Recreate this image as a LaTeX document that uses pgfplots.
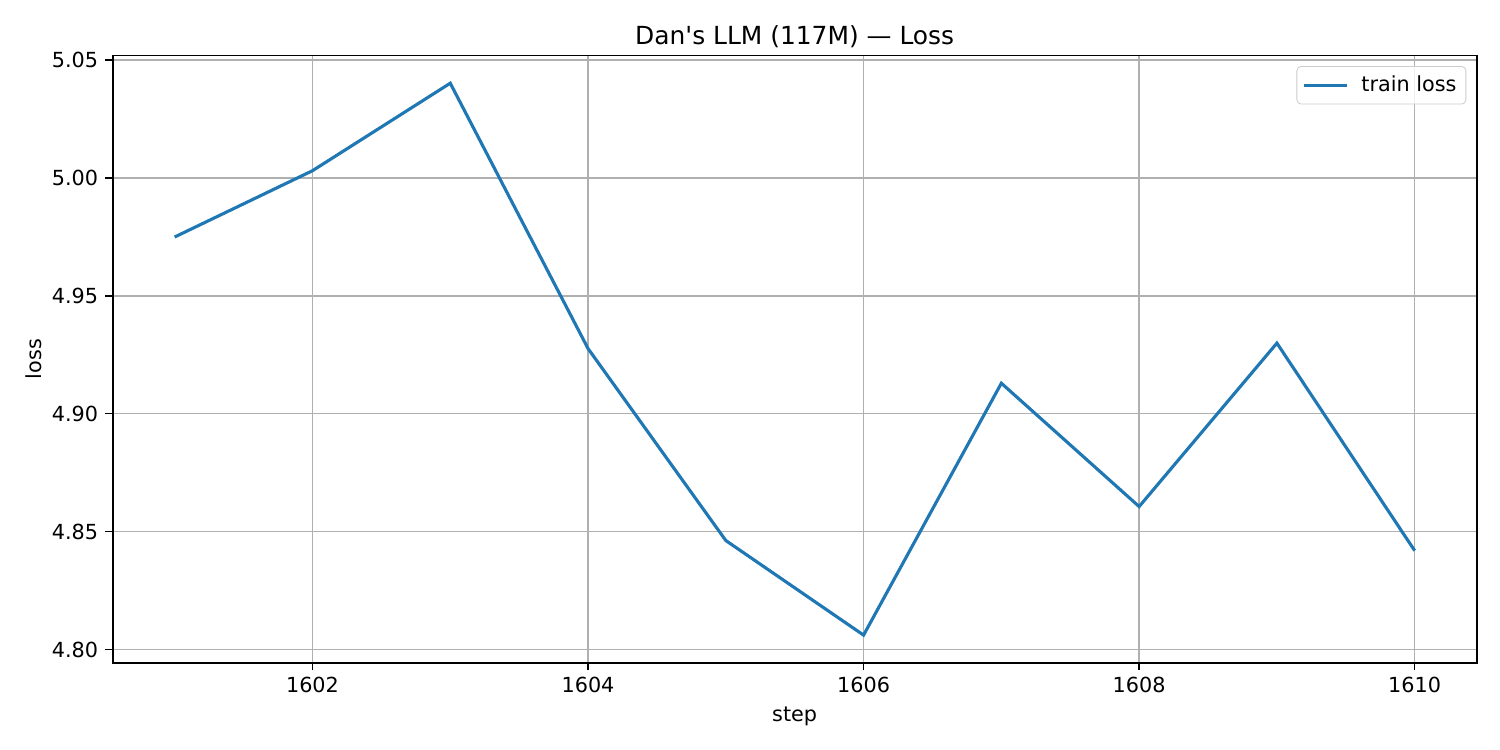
\documentclass[border=0pt]{standalone}
\usepackage{fontspec}
\setmainfont{DejaVu Sans}[Ligatures=TeXOff]
\usepackage{pgfplots}
\pgfplotsset{compat=1.18}

\definecolor{mplblue}{HTML}{1F77B4}
\definecolor{gridgray}{HTML}{B0B0B0}
\definecolor{legedge}{HTML}{CCCCCC}

\begin{document}
\begin{tikzpicture}
\path[use as bounding box] (0,0) rectangle (720bp,360bp);
\begin{axis}[
    at={(54.1bp,41.9bp)}, anchor=south west,
    scale only axis,
    width=654.7bp, height=291.4bp,
    xmin=1600.55, xmax=1610.45,
    ymin=4.7944, ymax=5.0518,
    xtick={1602,1604,...,1610},
    ytick={4.80,4.85,...,5.05},
    /pgf/number format/assume math mode=true,
    /pgf/number format/set thousands separator={},
    yticklabel style={/pgf/number format/.cd, fixed, fixed zerofill, precision=2},
    tick label style={font=\fontsize{10}{12}\selectfont},
    tick align=outside, tick pos=left,
    major tick length=3.5bp,
    every tick/.style={black, line width=0.8bp},
    axis line style={line width=0.8bp},
    grid=major,
    major grid style={gridgray, line width=0.8bp},
    title={Dan's LLM (117M) — Loss},
    title style={font=\fontsize{12}{14}\selectfont, at={(0.5,1)}, anchor=south, yshift=-5.6bp},
    xlabel={step}, ylabel={loss},
    label style={font=\fontsize{10}{12}\selectfont},
    xlabel style={yshift=0bp},
    ylabel style={yshift=-2bp},
    legend style={at={(1,1)}, anchor=north east, xshift=-5bp, yshift=-5bp,
        draw=legedge, rounded corners=2bp, fill=white, fill opacity=0.8, text opacity=1,
        font=\fontsize{10}{12}\selectfont, inner sep=2.5bp,
        /tikz/every odd column/.append style={column sep=4bp}},
    legend cell align=left,
    legend image code/.code={\draw[#1] (0bp,0bp) -- (21bp,0bp);},
]
\addplot[mplblue, line width=1.5bp] coordinates {
    (1601,4.9749) (1602,5.0030) (1603,5.0401) (1604,4.9276) (1605,4.8462)
    (1606,4.8061) (1607,4.9129) (1608,4.8606) (1609,4.9299) (1610,4.8419)
};
\addlegendentry{train loss}
\end{axis}
\end{tikzpicture}
\end{document}
